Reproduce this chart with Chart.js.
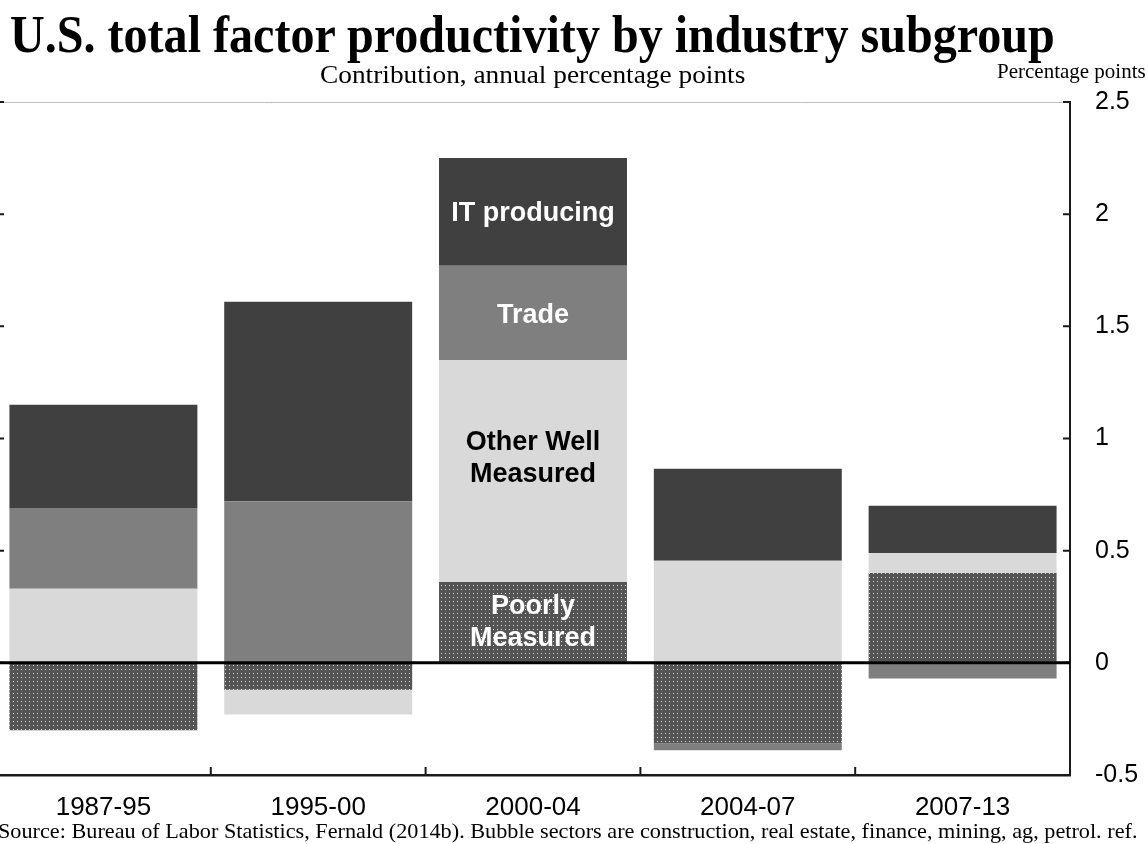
<!DOCTYPE html>
<html lang="en">
<head>
<meta charset="UTF-8">
<title>U.S. total factor productivity by industry subgroup</title>
<script src="https://cdn.jsdelivr.net/npm/chart.js@4.4.1/dist/chart.umd.min.js"></script>
<style>
  body { margin: 0; width: 1148px; height: 844px; overflow: hidden; background: #fff; position: relative; }
  .txt { position: absolute; white-space: nowrap; color: #000; transform-origin: left top; font-family: "Liberation Serif", "Times New Roman", serif; }
  #title { left: 10px; top: 9px; font-size: 52px; line-height: 52px; font-weight: bold; }
  #subtitle { left: 320px; top: 62px; font-size: 26px; line-height: 26px; }
  #units { left: 997px; top: 61px; font-size: 21px; line-height: 21px; }
  #source { left: -2px; top: 821px; font-size: 21px; line-height: 21px; }
  #wrap { position: absolute; left: -4px; top: 0; width: 1152px; height: 844px; }
</style>
</head>
<body>
<div id="wrap"><canvas id="chart" width="1152" height="844"></canvas></div>
<div class="txt" id="title" data-w="1045">U.S. total factor productivity by industry subgroup</div>
<div class="txt" id="subtitle" data-w="425">Contribution, annual percentage points</div>
<div class="txt" id="units">Percentage points</div>
<div class="txt" id="source" data-w="1140">Source: Bureau of Labor Statistics, Fernald (2014b). Bubble sectors are construction, real estate, finance, mining, ag, petrol. ref.</div>

<script>
// data
const categories = ['1987-95', '1995-00', '2000-04', '2004-07', '2007-13'];
const poorlyMeasured = [-0.30, -0.12, 0.36, -0.36, 0.40];
const otherWellMeasured = [0.33, -0.11, 0.99, 0.455, 0.09];
const trade = [0.36, 0.72, 0.42, -0.03, -0.07];
const itProducing = [0.46, 0.89, 0.48, 0.41, 0.21];
const yMin = -0.5, yMax = 2.5, yStep = 0.5;

// the bar that carries the series names
const labelledBar = 2;
const segLabels = [
  { ds: 3, lines: ['IT producing'], color: '#fff', dy: 2 },
  { ds: 2, lines: ['Trade'], color: '#fff', dy: 3 },
  { ds: 1, lines: ['Other Well', 'Measured'], color: '#000', dy: -12 },
  { ds: 0, lines: ['Poorly', 'Measured'], color: '#fff', dy: 0 }
];

// squeeze the serif headings to the reference width
document.querySelectorAll('.txt[data-w]').forEach(el => {
  const s = Number(el.dataset.w) / el.offsetWidth;
  el.style.transform = 'scaleX(' + s + ')';
});

function dotPattern() {
  const c = document.createElement('canvas');
  c.width = 4; c.height = 4;
  const g = c.getContext('2d');
  g.fillStyle = '#545454';
  g.fillRect(0, 0, 4, 4);
  g.fillStyle = '#dcdcdc';
  g.fillRect(1, 1, 1, 1);
  return g.createPattern(c, 'repeat');
}

const decorations = {
  id: 'decorations',
  afterDatasetsDraw(chart) {
    const { ctx, chartArea: a, scales: { x, y } } = chart;
    ctx.save();
    // thin frame line on top
    ctx.strokeStyle = '#bdbdbd';
    ctx.lineWidth = 1;
    ctx.beginPath();
    ctx.moveTo(a.left, a.top + 0.5);
    ctx.lineTo(a.right, a.top + 0.5);
    ctx.stroke();

    // inward tick marks
    ctx.strokeStyle = '#1a1a1a';
    ctx.lineWidth = 2;
    ctx.beginPath();
    y.ticks.forEach((t, i) => {
      const py = y.getPixelForTick(i);
      ctx.moveTo(a.right - 7, py); ctx.lineTo(a.right, py);
      ctx.moveTo(a.left, py); ctx.lineTo(a.left + 8, py);
    });
    for (let i = 0; i < categories.length - 1; i++) {
      const px = (x.getPixelForTick(i) + x.getPixelForTick(i + 1)) / 2;
      ctx.moveTo(px, a.bottom); ctx.lineTo(px, a.bottom - 8);
    }
    ctx.stroke();

    // zero line
    const zy = y.getPixelForValue(0);
    ctx.strokeStyle = '#000';
    ctx.lineWidth = 3;
    ctx.beginPath();
    ctx.moveTo(a.left, zy);
    ctx.lineTo(a.right, zy);
    ctx.stroke();

    // series names inside the 2000-04 bar
    ctx.font = 'bold 27px "Liberation Sans", Arial, sans-serif';
    ctx.textAlign = 'center';
    ctx.textBaseline = 'middle';
    segLabels.forEach(l => {
      const bar = chart.getDatasetMeta(l.ds).data[labelledBar];
      const cy = (bar.y + bar.base) / 2 + l.dy;
      const lh = 32;
      ctx.fillStyle = l.color;
      l.lines.forEach((txt, k) => {
        ctx.fillText(txt, bar.x, cy + (k - (l.lines.length - 1) / 2) * lh);
      });
    });
    ctx.restore();
  }
};

const dataset = (label, data, color) => ({
  label: label,
  data: data,
  backgroundColor: color,
  borderWidth: 0,
  categoryPercentage: 1,
  barPercentage: 0.875
});

new Chart(document.getElementById('chart'), {
  type: 'bar',
  data: {
    labels: categories,
    datasets: [
      dataset('Poorly Measured', poorlyMeasured, dotPattern()),
      dataset('Other Well Measured', otherWellMeasured, '#d9d9d9'),
      dataset('Trade', trade, '#7f7f7f'),
      dataset('IT producing', itProducing, '#404040')
    ]
  },
  options: {
    responsive: false,
    animation: false,
    layout: { padding: { top: 102, bottom: 19, left: 0, right: 0 } },
    plugins: { legend: { display: false }, tooltip: { enabled: false } },
    scales: {
      x: {
        stacked: true,
        grid: { display: false },
        border: { display: true, color: '#1a1a1a', width: 2.5 },
        ticks: {
          color: '#000',
          padding: 9,
          font: { family: '"Liberation Sans", Arial, sans-serif', size: 26 }
        },
        afterFit: s => { s.height = 50; }
      },
      y: {
        stacked: true,
        position: 'right',
        min: yMin,
        max: yMax,
        grid: { display: false },
        border: { display: true, color: '#1a1a1a', width: 2 },
        ticks: {
          stepSize: yStep,
          color: '#000',
          padding: 17,
          font: { family: '"Liberation Sans", Arial, sans-serif', size: 25 },
          callback: v => String(Number(v))
        },
        afterFit: s => { s.width = 78; }
      }
    }
  },
  plugins: [decorations]
});
</script>
</body>
</html>
